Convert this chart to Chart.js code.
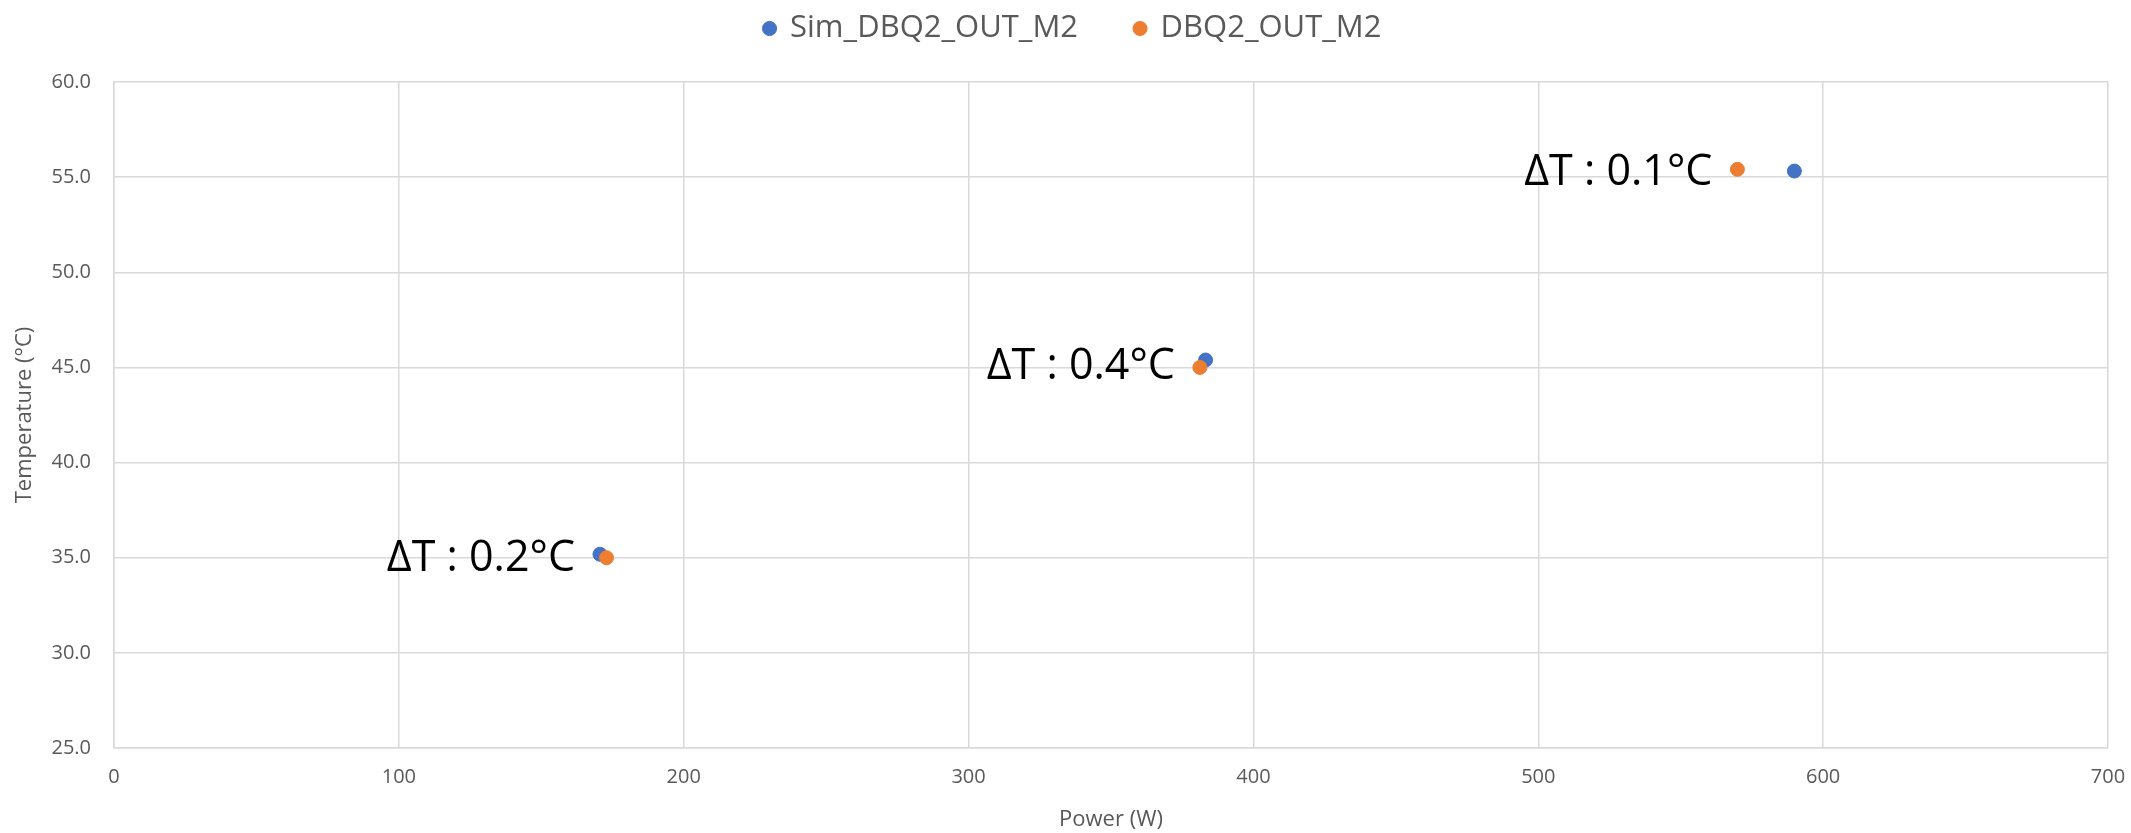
<!DOCTYPE html>
<html>
<head>
<meta charset="utf-8">
<script src="https://cdn.jsdelivr.net/npm/chart.js@4.4.1/dist/chart.umd.min.js"></script>
<style>
html, body { margin: 0; padding: 0; background: #fff; }
</style>
</head>
<body>
<canvas id="chart" width="2131" height="833"></canvas>
<script>
// values
const seriesNames = ['Sim_DBQ2_OUT_M2', 'DBQ2_OUT_M2'];
const simPower = [170.6, 383.2, 589.9];
const simTemp = [35.18, 45.39, 55.32];
const measPower = [172.9, 381.2, 569.9];
const measTemp = [35.0, 45.0, 55.41];
const deltaLabels = ['ΔT : 0.2°C', 'ΔT : 0.4°C', 'ΔT : 0.1°C'];
const xRange = [0, 700, 100];
const yRange = [25, 60, 5];

const FONT = 'Open Sans';
const GREY = '#595959';
const GRID = '#d9d9d9';

function toPoints(xs, ys) {
    return xs.map((x, i) => ({ x: x, y: ys[i] }));
}

// ΔT text to the left of each pair of points
const deltaPlugin = {
    id: 'deltaLabels',
    afterDatasetsDraw(chart) {
        const a = chart.getDatasetMeta(0).data;
        const b = chart.getDatasetMeta(1).data;
        const ctx = chart.ctx;
        ctx.save();
        ctx.font = '43px "' + FONT + '"';
        ctx.fillStyle = '#000';
        ctx.textAlign = 'right';
        ctx.textBaseline = 'middle';
        deltaLabels.forEach((txt, i) => {
            const x = Math.min(a[i].x, b[i].x) - 25;
            const y = (a[i].y + b[i].y) / 2 + 3;
            ctx.fillText(txt, x, y);
        });
        ctx.restore();
    }
};

// legend box height fixed, legend nudged like the original
const layoutPlugin = {
    id: 'layoutTweak',
    beforeInit(chart) {
        const lg = chart.legend;
        const fit = lg.fit;
        lg.fit = function () { fit.call(this); this.height = 82; };
    },
    afterLayout(chart) {
        const lg = chart.legend;
        lg.top = -44;
        lg.left += 19;
        lg.right += 19;
    }
};

new Chart(document.getElementById('chart'), {
    type: 'scatter',
    data: {
        datasets: [{
            label: seriesNames[0],
            data: toPoints(simPower, simTemp),
            backgroundColor: '#4472C4',
            borderColor: '#4472C4',
            pointRadius: 7,
            borderWidth: 1,
            order: 1
        }, {
            label: seriesNames[1],
            data: toPoints(measPower, measTemp),
            backgroundColor: '#ED7D31',
            borderColor: '#ED7D31',
            pointRadius: 7,
            borderWidth: 1,
            order: 0
        }]
    },
    options: {
        responsive: false,
        animation: false,
        events: [],
        layout: { padding: { left: 0, right: 23, top: 0, bottom: 0 } },
        plugins: {
            legend: {
                position: 'top',
                labels: {
                    usePointStyle: true,
                    pointStyle: 'circle',
                    boxWidth: 10,
                    boxHeight: 10,
                    padding: 57,
                    color: GREY,
                    font: { family: FONT, size: 31 },
                    sort: (p, q) => p.datasetIndex - q.datasetIndex
                }
            },
            tooltip: { enabled: false }
        },
        scales: {
            x: {
                type: 'linear',
                min: xRange[0],
                max: xRange[1],
                ticks: { stepSize: xRange[2], color: GREY, font: { family: FONT, size: 20 }, padding: 17 },
                grid: { color: GRID, lineWidth: 1.5, drawTicks: false },
                border: { color: GRID, width: 1.5 },
                title: { display: true, text: 'Power (W)', color: GREY, font: { family: FONT, size: 22 }, padding: { top: 4, bottom: 0 } },
                afterFit(s) {
                    s.height = 85;
                    s.paddingLeft = 0;
                    s.paddingRight = 0;
                }
            },
            y: {
                type: 'linear',
                min: yRange[0],
                max: yRange[1],
                ticks: { stepSize: yRange[2], color: GREY, font: { family: FONT, size: 20 }, padding: 23, callback: v => v.toFixed(1) },
                grid: { color: GRID, lineWidth: 1.5, drawTicks: false },
                border: { color: GRID, width: 1.5 },
                title: { display: true, text: 'Temperature (°C)', color: GREY, font: { family: FONT, size: 22 }, padding: { top: 12, bottom: 4 } },
                afterFit(s) { s.width = 114; }
            }
        }
    },
    plugins: [deltaPlugin, layoutPlugin]
});
</script>
</body>
</html>
